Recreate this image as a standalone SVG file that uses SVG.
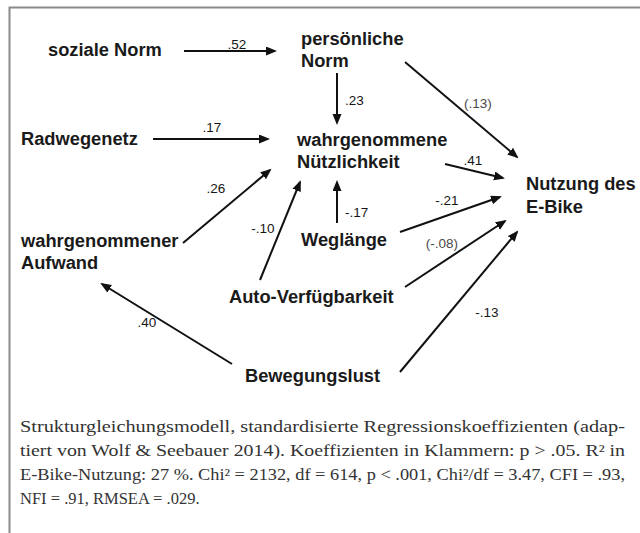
<svg xmlns="http://www.w3.org/2000/svg" width="640" height="533" viewBox="0 0 640 533">
<style>
.n{font-family:"Liberation Sans",Arial,sans-serif;font-weight:bold;font-size:18.3px;fill:#1a1a1a}
.l{font-family:"Liberation Sans",Arial,sans-serif;font-size:13.5px;fill:#161616}
.p{fill:#4a4a4a}
.e line{stroke:#111;stroke-width:2;marker-end:url(#ah)}
.c{font-family:"Liberation Serif","Times New Roman",serif;font-size:16.5px;fill:#333}
</style>
<defs>
<marker id="ah" markerUnits="userSpaceOnUse" markerWidth="12" markerHeight="10" refX="9" refY="4.5" orient="auto">
<path d="M0,0 L11,4.5 L0,9 z" fill="#111"/>
</marker>
</defs>
<rect width="640" height="533" fill="#fff"/>
<path d="M9.5,533 V7.5 H640" fill="none" stroke="#8a8a8a" stroke-width="2"/>

<g id="soziale-norm"><text class="n" x="48" y="56">soziale Norm</text></g>
<g id="persoenliche-norm"><text class="n" x="301" y="45">persönliche</text><text class="n" x="301" y="67">Norm</text></g>
<g id="radwegenetz"><text class="n" x="21" y="145">Radwegenetz</text></g>
<g id="nuetzlichkeit"><text class="n" x="297" y="146">wahrgenommene</text><text class="n" x="297" y="168">Nützlichkeit</text></g>
<g id="nutzung"><text class="n" x="526" y="190">Nutzung des</text><text class="n" x="526" y="213">E-Bike</text></g>
<g id="aufwand"><text class="n" x="21" y="247">wahrgenommener</text><text class="n" x="21" y="269">Aufwand</text></g>
<g id="weglaenge"><text class="n" x="301" y="246">Weglänge</text></g>
<g id="auto"><text class="n" x="229" y="303">Auto-Verfügbarkeit</text></g>
<g id="bewegungslust"><text class="n" x="245" y="382">Bewegungslust</text></g>

<g id="connectors" class="e">
<line x1="184" y1="51" x2="275" y2="51"/>
<line x1="337" y1="73" x2="337" y2="123"/>
<line x1="405" y1="62" x2="517" y2="157"/>
<line x1="153" y1="139" x2="268" y2="139"/>
<line x1="183" y1="243" x2="270" y2="170"/>
<line x1="260" y1="280" x2="300" y2="182"/>
<line x1="337" y1="223" x2="337" y2="182"/>
<line x1="445" y1="164" x2="503" y2="178"/>
<line x1="400" y1="232" x2="500" y2="197"/>
<line x1="405" y1="287" x2="505" y2="221"/>
<line x1="400" y1="372" x2="517" y2="232"/>
<line x1="232" y1="364" x2="102" y2="284"/>
</g>

<g id="labels">
<text class="l" x="237" y="49" text-anchor="middle">.52</text>
<text class="l" x="345" y="105">.23</text>
<text class="l p" x="478" y="108" text-anchor="middle">(.13)</text>
<text class="l" x="212" y="132" text-anchor="middle">.17</text>
<text class="l" x="216" y="193" text-anchor="middle">.26</text>
<text class="l" x="263" y="233" text-anchor="middle">-.10</text>
<text class="l" x="345" y="217">-.17</text>
<text class="l" x="473" y="165" text-anchor="middle">.41</text>
<text class="l" x="447" y="205" text-anchor="middle">-.21</text>
<text class="l p" x="442" y="248" text-anchor="middle">(-.08)</text>
<text class="l" x="487" y="317" text-anchor="middle">-.13</text>
<text class="l" x="147" y="327" text-anchor="middle">.40</text>
</g>

<g id="caption">
<text class="c" x="20" y="432" textLength="605" lengthAdjust="spacingAndGlyphs">Strukturgleichungsmodell, standardisierte Regressionskoeffizienten (adap-</text>
<text class="c" x="20" y="456" textLength="605" lengthAdjust="spacingAndGlyphs">tiert von Wolf &amp; Seebauer 2014). Koeffizienten in Klammern: p &gt; .05. R² in</text>
<text class="c" x="20" y="480" textLength="605" lengthAdjust="spacingAndGlyphs">E-Bike-Nutzung: 27 %. Chi² = 2132, df = 614, p &lt; .001, Chi²/df = 3.47, CFI = .93,</text>
<text class="c" x="20" y="504">NFI = .91, RMSEA = .029.</text>
</g>
</svg>
